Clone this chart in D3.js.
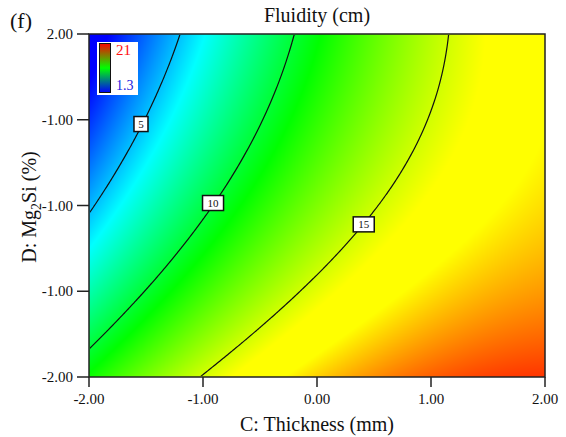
<!DOCTYPE html>
<html>
<head>
<meta charset="utf-8">
<script src="https://cdn.jsdelivr.net/npm/d3@7"></script>
<style>
  body { margin: 0; background: #fff; }
</style>
</head>
<body>
<svg id="chart" width="566" height="437"></svg>
<script>
// fitted response surface (coded units), read off the contour positions
// Fluidity = b0 + bC*C + bD*D + bCD*C*D + bCC*C^2 + bDD*D^2
const term_names = ['b0', 'bC', 'bD', 'bCD', 'bCC', 'bDD'];
const coefs = [13.42, 3.24, -1.76, 0.49, -0.55, 0.24];

const x_ticks = [-2, -1, 0, 1, 2];
const x_tick_labels = ['-2.00', '-1.00', '0.00', '1.00', '2.00'];
const y_ticks = [2, 1, 0, -1, -2];
const y_tick_labels = ['2.00', '-1.00', '-1.00', '-1.00', '-2.00'];

const contour_levels = [5, 10, 15];
// label anchor points [C, D] for each level
const label_points = [[-1.544, 0.95], [-0.912, 0.029], [0.41, -0.22]];

const legend_range = [1.3, 21];
// colour ramp stops (value) as seen in the picture
const ramp_values = [1.3, 6.2, 11.0, 15.9, 17.2, 21];
const ramp_colors = ['#0000ff', '#00ffff', '#00ff00', '#ffff00', '#ffff00', '#ff0000'];

const serif = '"Liberation Serif", "DejaVu Serif", "Times New Roman", Times, serif';

const svg = d3.select('#chart').attr('font-family', serif);
const margin = { left: 89, right: 545, top: 34, bottom: 377 };
const pw = margin.right - margin.left;
const ph = margin.bottom - margin.top;

const x = d3.scaleLinear().domain([-2, 2]).range([margin.left, margin.right]);
const y = d3.scaleLinear().domain([-2, 2]).range([margin.bottom, margin.top]);

function fluidity(c, d) {
  return coefs[0] + coefs[1] * c + coefs[2] * d + coefs[3] * c * d +
    coefs[4] * c * c + coefs[5] * d * d;
}

const color = d3.scaleLinear()
  .domain(ramp_values)
  .range(ramp_colors)
  .clamp(true);

// raster of the surface
let canvas = document.createElement('canvas');
canvas.width = pw;
canvas.height = ph;
let ctx = canvas.getContext('2d');
let img = ctx.createImageData(pw, ph);
for (let j = 0; j < ph; j++) {
  for (let i = 0; i < pw; i++) {
    let c = x.invert(margin.left + i + 0.5);
    let d = y.invert(margin.top + j + 0.5);
    let rgb = d3.rgb(color(fluidity(c, d)));
    let k = (j * pw + i) * 4;
    img.data[k] = rgb.r;
    img.data[k + 1] = rgb.g;
    img.data[k + 2] = rgb.b;
    img.data[k + 3] = 255;
  }
}
ctx.putImageData(img, 0, 0);

svg.append('image')
  .attr('x', margin.left)
  .attr('y', margin.top)
  .attr('width', pw)
  .attr('height', ph)
  .attr('preserveAspectRatio', 'none')
  .attr('href', canvas.toDataURL());

// contour lines
const nx = 228, ny = 172;
let grid = new Array(nx * ny);
for (let j = 0; j < ny; j++) {
  for (let i = 0; i < nx; i++) {
    let c = -2 + (i + 0.5) * 4 / nx;
    let d = 2 - (j + 0.5) * 4 / ny;
    grid[j * nx + i] = fluidity(c, d);
  }
}
let contours = d3.contours().size([nx, ny]).thresholds(contour_levels)(grid);

svg.append('clipPath').attr('id', 'plot_clip')
  .append('rect')
  .attr('x', margin.left + 1).attr('y', margin.top + 1)
  .attr('width', pw - 2).attr('height', ph - 2);

svg.append('g')
  .attr('clip-path', 'url(#plot_clip)')
  .append('g')
  .attr('transform', 'translate(' + margin.left + ',' + margin.top + ') scale(' + (pw / nx) + ',' + (ph / ny) + ')')
  .selectAll('path')
  .data(contours)
  .enter()
  .append('path')
  .attr('d', d3.geoPath())
  .attr('fill', 'none')
  .attr('stroke', '#111')
  .attr('stroke-width', 1.2)
  .attr('vector-effect', 'non-scaling-stroke');

// contour labels
let lab = svg.append('g')
  .selectAll('g')
  .data(contour_levels)
  .enter()
  .append('g')
  .attr('transform', function(d, i) {
    return 'translate(' + x(label_points[i][0]) + ',' + y(label_points[i][1]) + ')';
  });
lab.append('rect')
  .attr('x', d => d < 10 ? -7 : -10.5)
  .attr('y', -7.5)
  .attr('width', d => d < 10 ? 14 : 21)
  .attr('height', 15)
  .attr('fill', '#fff')
  .attr('stroke', '#111')
  .attr('stroke-width', 1.5);
lab.append('text')
  .attr('text-anchor', 'middle')
  .attr('y', 4)
  .attr('font-size', 11)
  .attr('fill', '#111')
  .text(d => d);

// frame
svg.append('rect')
  .attr('x', margin.left).attr('y', margin.top)
  .attr('width', pw).attr('height', ph)
  .attr('fill', 'none')
  .attr('stroke', '#222')
  .attr('stroke-width', 1.5);

// x axis
let xg = svg.append('g');
xg.selectAll('line')
  .data(x_ticks)
  .enter()
  .append('line')
  .attr('x1', d => x(d)).attr('x2', d => x(d))
  .attr('y1', margin.bottom).attr('y2', margin.bottom + 10)
  .attr('stroke', '#222').attr('stroke-width', 1.5);
xg.selectAll('text')
  .data(x_ticks)
  .enter()
  .append('text')
  .attr('x', d => x(d))
  .attr('y', 404)
  .attr('text-anchor', 'middle')
  .attr('font-size', 15)
  .attr('fill', '#111')
  .text((d, i) => x_tick_labels[i]);

// y axis
let yg = svg.append('g');
yg.selectAll('line')
  .data(y_ticks)
  .enter()
  .append('line')
  .attr('x1', margin.left - 12).attr('x2', margin.left)
  .attr('y1', d => y(d)).attr('y2', d => y(d))
  .attr('stroke', '#222').attr('stroke-width', 1.5);
yg.selectAll('text')
  .data(y_ticks)
  .enter()
  .append('text')
  .attr('x', 73)
  .attr('y', d => y(d) + 5)
  .attr('text-anchor', 'end')
  .attr('font-size', 15)
  .attr('fill', '#111')
  .text((d, i) => y_tick_labels[i]);

// titles
svg.append('text')
  .attr('x', 317).attr('y', 22)
  .attr('text-anchor', 'middle')
  .attr('font-size', 20)
  .attr('fill', '#111')
  .text('Fluidity (cm)');

svg.append('text')
  .attr('x', 10).attr('y', 28)
  .attr('font-size', 22)
  .attr('fill', '#111')
  .text('(f)');

svg.append('text')
  .attr('x', 317).attr('y', 431)
  .attr('text-anchor', 'middle')
  .attr('font-size', 20)
  .attr('fill', '#111')
  .text('C: Thickness (mm)');

let ylab = svg.append('text')
  .attr('transform', 'translate(36,207) rotate(-90)')
  .attr('text-anchor', 'middle')
  .attr('font-size', 20)
  .attr('fill', '#111');
ylab.append('tspan').text('D: Mg');
ylab.append('tspan').attr('dy', 5).attr('font-size', 14).text('2');
ylab.append('tspan').attr('dy', -5).text('Si  (%)');

// legend
let defs = svg.append('defs');
let grad = defs.append('linearGradient')
  .attr('id', 'legend_grad')
  .attr('x1', 0).attr('x2', 0).attr('y1', 0).attr('y2', 1);
grad.append('stop').attr('offset', '0%').attr('stop-color', '#ff0000');
grad.append('stop').attr('offset', '50%').attr('stop-color', '#00ff00');
grad.append('stop').attr('offset', '100%').attr('stop-color', '#0000ff');

let leg = svg.append('g');
leg.append('rect')
  .attr('x', 97).attr('y', 42)
  .attr('width', 41).attr('height', 53)
  .attr('fill', '#fff');
leg.append('rect')
  .attr('x', 99.5).attr('y', 43.5)
  .attr('width', 11).attr('height', 49)
  .attr('fill', 'url(#legend_grad)')
  .attr('stroke', '#111')
  .attr('stroke-width', 1);
leg.append('text')
  .attr('x', 116).attr('y', 55)
  .attr('font-size', 15)
  .attr('fill', '#ff1010')
  .text(legend_range[1]);
leg.append('text')
  .attr('x', 116).attr('y', 90)
  .attr('font-size', 14)
  .attr('fill', '#2020e0')
  .text(legend_range[0]);
</script>
</body>
</html>
